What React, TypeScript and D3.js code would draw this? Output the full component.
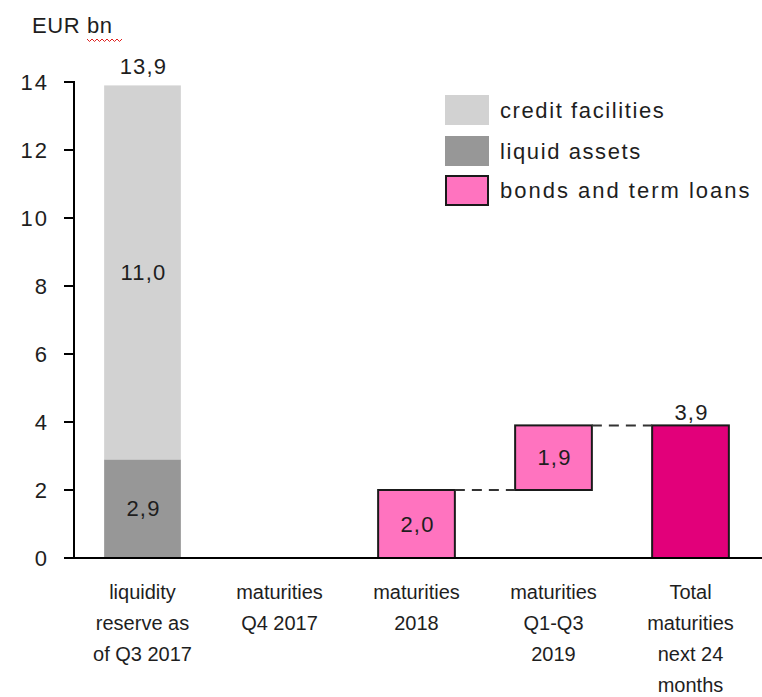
import React from "react";
import * as d3 from "d3";

const categories = ["liquidity", "q4_2017", "y2018", "q1q3_2019", "total"];
const categoryLabels = [
  ["liquidity", "reserve as", "of Q3 2017"],
  ["maturities", "Q4 2017"],
  ["maturities", "2018"],
  ["maturities", "Q1-Q3", "2019"],
  ["Total", "maturities", "next 24", "months"],
];
const liquidAssets = [2.9, 0, 0, 0, 0];
const creditFacilities = [11.0, 0, 0, 0, 0];
const maturities = [0, 0, 2.0, 1.9, 0];
const totalMaturities = [0, 0, 0, 0, 3.9];
const yTicks = [0, 2, 4, 6, 8, 10, 12, 14];
const legendItems = ["credit facilities", "liquid assets", "bonds and term loans"];

const W = 762;
const H = 697;
const FONT = "'Liberation Sans', Arial, sans-serif";
const TXT = "#1e1e1e";
const C_CREDIT = "#d2d2d2";
const C_LIQUID = "#979797";
const C_BOND = "#ff73bf";
const C_TOTAL = "#e2007a";

const fmt = (v: number) => v.toFixed(1).replace(".", ",");

export default function App() {
  const x = d3
    .scaleBand<string>()
    .domain(categories)
    .range([74, 759])
    .paddingInner(0.44)
    .paddingOuter(0.22);
  const y = d3.scaleLinear().domain([0, 14]).range([558, 82]);
  const bw = x.bandwidth();

  const matBase: number[] = [];
  let cum = 0;
  maturities.forEach((v) => {
    matBase.push(cum);
    cum += v;
  });

  const connectors: { x1: number; x2: number; y: number }[] = [];
  const matIdx = maturities.map((v, i) => (v > 0 ? i : -1)).filter((i) => i >= 0);
  matIdx.forEach((i, k) => {
    const top = matBase[i] + maturities[i];
    const next = k + 1 < matIdx.length ? matIdx[k + 1] : totalMaturities.findIndex((t) => t > 0);
    if (next >= 0) {
      connectors.push({
        x1: (x(categories[i]) as number) + bw,
        x2: x(categories[next]) as number,
        y: y(top),
      });
    }
  });

  const legendColors = [C_CREDIT, C_LIQUID, C_BOND];
  const legendY = [95, 136, 175];

  let squiggle = "M87,39";
  for (let i = 0, xx = 87; xx < 120; i++) {
    xx += 2.5;
    squiggle += ` L${xx},${i % 2 === 0 ? 41.5 : 39}`;
  }

  const VS = 22;
  const VL = 1.2;

  return (
    <svg
      width={W}
      height={H}
      style={{ position: "absolute", left: 0, top: 0, background: "#fff" }}
      fontFamily={FONT}
    >
      <text x={32} y={33} fontSize={22} fill={TXT} letterSpacing={0.6}>
        EUR bn
      </text>
      <path d={squiggle} fill="none" stroke="#e02020" strokeWidth={1} />

      {categories.map((c, i) =>
        liquidAssets[i] > 0 ? (
          <rect key={"la" + c} x={x(c)} y={y(liquidAssets[i])} width={bw} height={y(0) - y(liquidAssets[i])} fill={C_LIQUID} />
        ) : null
      )}
      {categories.map((c, i) =>
        creditFacilities[i] > 0 ? (
          <rect
            key={"cf" + c}
            x={x(c)}
            y={y(liquidAssets[i] + creditFacilities[i])}
            width={bw}
            height={y(liquidAssets[i]) - y(liquidAssets[i] + creditFacilities[i])}
            fill={C_CREDIT}
          />
        ) : null
      )}
      {categories.map((c, i) =>
        maturities[i] > 0 ? (
          <rect
            key={"m" + c}
            x={x(c)}
            y={y(matBase[i] + maturities[i])}
            width={bw}
            height={y(matBase[i]) - y(matBase[i] + maturities[i])}
            fill={C_BOND}
            stroke="#1a1a1a"
            strokeWidth={2}
          />
        ) : null
      )}
      {categories.map((c, i) =>
        totalMaturities[i] > 0 ? (
          <rect
            key={"t" + c}
            x={x(c)}
            y={y(totalMaturities[i])}
            width={bw}
            height={y(0) - y(totalMaturities[i])}
            fill={C_TOTAL}
            stroke="#1a1a1a"
            strokeWidth={2}
          />
        ) : null
      )}

      {connectors.map((c, i) => (
        <line key={"cn" + i} x1={c.x1} x2={c.x2} y1={c.y} y2={c.y} stroke="#333" strokeWidth={2} strokeDasharray="10,7" />
      ))}

      {categories.map((c, i) => {
        const cx = (x(c) as number) + bw / 2 + 1;
        const out: React.ReactNode[] = [];
        if (liquidAssets[i] > 0) {
          out.push(
            <text key="l" x={cx} y={y(liquidAssets[i] / 2)} dy="0.35em" textAnchor="middle" fontSize={VS} fill={TXT} letterSpacing={VL}>
              {fmt(liquidAssets[i])}
            </text>
          );
        }
        if (creditFacilities[i] > 0) {
          out.push(
            <text key="c" x={cx} y={y(liquidAssets[i] + creditFacilities[i] / 2)} dy="0.35em" textAnchor="middle" fontSize={VS} fill={TXT} letterSpacing={VL}>
              {fmt(creditFacilities[i])}
            </text>
          );
          out.push(
            <text key="s" x={cx} y={y(liquidAssets[i] + creditFacilities[i]) - 11} textAnchor="middle" fontSize={VS} fill={TXT} letterSpacing={VL}>
              {fmt(liquidAssets[i] + creditFacilities[i])}
            </text>
          );
        }
        if (maturities[i] > 0) {
          out.push(
            <text key="m" x={cx} y={y(matBase[i] + maturities[i] / 2)} dy="0.35em" textAnchor="middle" fontSize={VS} fill={TXT} letterSpacing={VL}>
              {fmt(maturities[i])}
            </text>
          );
        }
        if (totalMaturities[i] > 0) {
          out.push(
            <text key="t" x={cx} y={y(totalMaturities[i]) - 5} textAnchor="middle" fontSize={VS} fill={TXT} letterSpacing={VL}>
              {fmt(totalMaturities[i])}
            </text>
          );
        }
        return <g key={"v" + c}>{out}</g>;
      })}

      <line x1={74} x2={74} y1={y(14) - 1} y2={y(0)} stroke="#000" strokeWidth={2} />
      {yTicks.map((t) => (
        <g key={"yt" + t}>
          <line x1={64} x2={74} y1={y(t)} y2={y(t)} stroke="#000" strokeWidth={2} />
          <text x={49} y={y(t)} dy="0.36em" textAnchor="end" fontSize={22} fill={TXT} letterSpacing={2}>
            {t}
          </text>
        </g>
      ))}
      <line x1={64} x2={762} y1={y(0)} y2={y(0)} stroke="#000" strokeWidth={2} />

      {categories.map((c, i) => (
        <text key={"xl" + c} textAnchor="middle" fontSize={20} fill={TXT}>
          {categoryLabels[i].map((line, j) => (
            <tspan key={j} x={(x(c) as number) + bw / 2} y={599 + j * 31}>
              {line}
            </tspan>
          ))}
        </text>
      ))}

      {legendItems.map((item, i) => (
        <g key={"lg" + i}>
          <rect
            x={i === 2 ? 446 : 445}
            y={i === 2 ? legendY[i] + 1 : legendY[i]}
            width={i === 2 ? 42 : 44}
            height={i === 2 ? 29 : 30}
            fill={legendColors[i]}
            stroke={i === 2 ? "#1a1a1a" : "none"}
            strokeWidth={2}
          />
          <text x={500} y={legendY[i] + 23} fontSize={22} fill={TXT} letterSpacing={i === 2 ? 2 : 1.6}>
            {item}
          </text>
        </g>
      ))}
    </svg>
  );
}
